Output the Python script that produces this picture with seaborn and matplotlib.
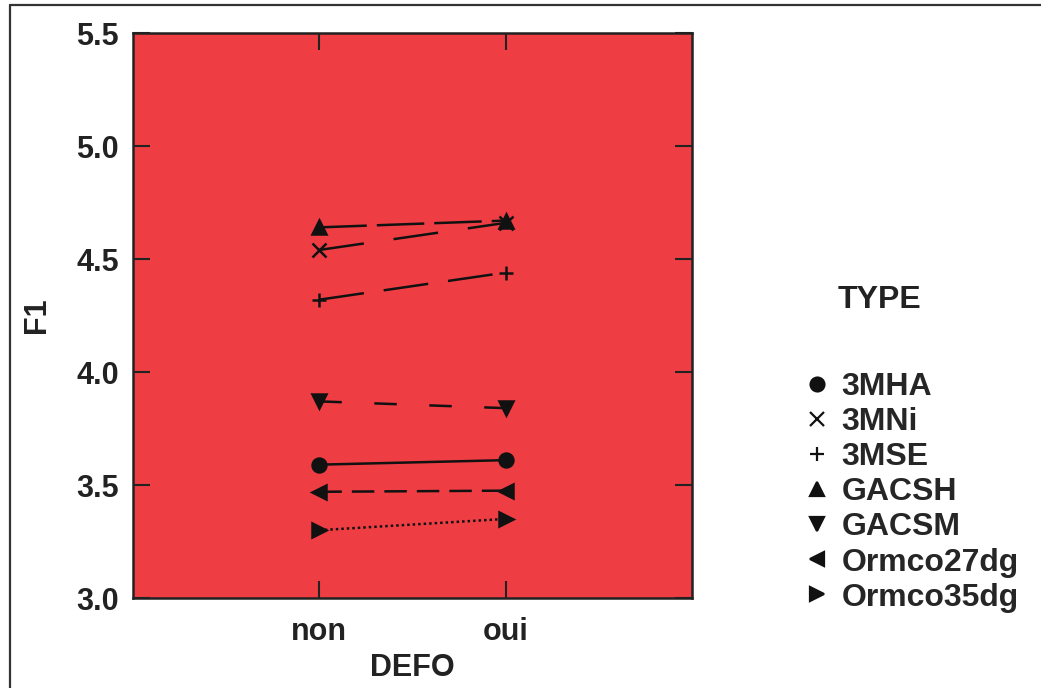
import pandas as pd
import numpy as np
import matplotlib
matplotlib.use('Agg')
import matplotlib.pyplot as plt
import seaborn as sns
from matplotlib.lines import Line2D

# values
defo = ['non', 'oui']
types = ['3MHA', '3MNi', '3MSE', 'GACSH', 'GACSM', 'Ormco27dg', 'Ormco35dg']
f1_non = [3.59, 4.54, 4.32, 4.64, 3.87, 3.47, 3.30]
f1_oui = [3.61, 4.66, 4.44, 4.67, 3.84, 3.475, 3.35]
yticks = [3.0, 3.5, 4.0, 4.5, 5.0, 5.5]

rows = []
for t, a, b in zip(types, f1_non, f1_oui):
    rows.append({'DEFO': defo[0], 'F1': a, 'TYPE': t})
    rows.append({'DEFO': defo[1], 'F1': b, 'TYPE': t})
df = pd.DataFrame(rows)

markers = {'3MHA': 'o', '3MNi': 'x', '3MSE': '+', 'GACSH': '^',
           'GACSM': 'v', 'Ormco27dg': '<', 'Ormco35dg': '>'}
dashes = {'3MHA': '', '3MNi': (18, 12), '3MSE': (18, 8), 'GACSH': (19, 4),
          'GACSM': (9, 13), 'Ormco27dg': (9, 4), 'Ormco35dg': (1, 1.2)}

sns.set_style("ticks")
plt.rcParams['font.family'] = ['Liberation Sans', 'DejaVu Sans']
plt.rcParams['font.weight'] = 'bold'

fig = plt.figure(figsize=(10.41, 6.88), dpi=100)
ax = fig.add_axes([133 / 1041, 1 - 598 / 688, (692 - 133) / 1041, (598 - 33) / 688])
ax.set_facecolor('#ee3e44')

# one call per type: seaborn won't mix filled and line-art markers in one style map
for t in types:
    sub = df[df['TYPE'] == t]
    sns.lineplot(data=sub, x='DEFO', y='F1', style='TYPE',
                 markers={t: markers[t]}, dashes={t: dashes[t]}, color='#111111',
                 linewidth=1.8, markersize=10, markeredgewidth=1.8,
                 markeredgecolor='#111111', ax=ax, legend=False, sort=False)

ax.set_xlim(-1, 2)
ax.set_ylim(3.0, 5.5)
ax.set_yticks(yticks)
ax.set_yticklabels([f'{v:.1f}' for v in yticks])
ax.tick_params(direction='in', length=12, width=1.5, top=True, right=True,
               labelsize=22, colors='#222222')
ax.tick_params(axis='y', pad=10)
ax.tick_params(axis='x', pad=14)
for s in ax.spines.values():
    s.set_linewidth(1.8)
    s.set_color('#222222')
ax.set_xlabel('DEFO', fontsize=22, fontweight='bold', color='#222222', labelpad=4)
ax.set_ylabel('F1', fontsize=22, fontweight='bold', color='#222222')
ax.yaxis.set_label_coords(-0.145, 0.5)

# legend outside at right
handles = [Line2D([], [], marker=markers[t], linestyle='none', color='#111111',
                  markersize=10, markeredgewidth=1.6) for t in types]
fig.legend(handles, types, loc='upper left', bbox_to_anchor=(803 / 1041, 1 - 372 / 688),
           frameon=False, handlelength=0.9, handletextpad=0.3,
           labelspacing=0.16, borderaxespad=0, borderpad=0,
           prop={'weight': 'bold', 'size': 23})
fig.text(838 / 1041, 1 - 300 / 688, 'TYPE', fontsize=23, fontweight='bold',
         color='#222222', va='center', ha='left')

# scan border
fig.add_artist(Line2D([10 / 1041, 1], [1 - 5 / 688, 1 - 5 / 688], color='#333333', lw=1.6))
fig.add_artist(Line2D([10 / 1041, 10 / 1041], [0, 1 - 5 / 688], color='#333333', lw=1.6))

fig.savefig('out.png', dpi=100)
